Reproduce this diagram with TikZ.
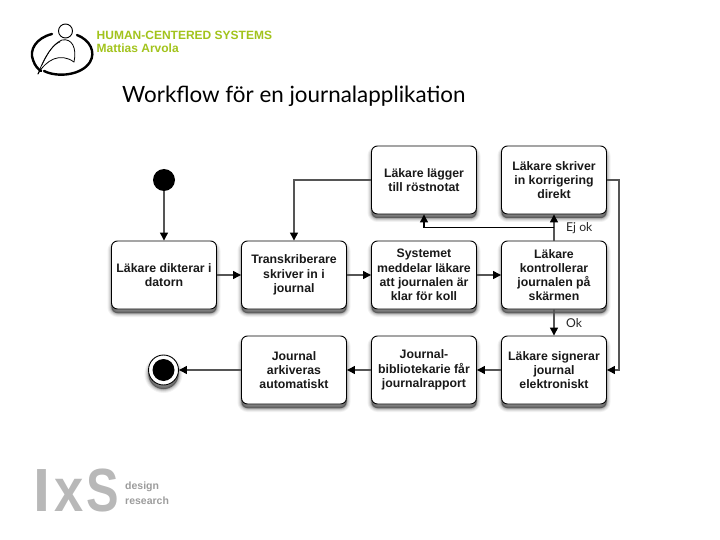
\documentclass[tikz,border=0pt]{standalone}
\usepackage{fontspec}
\setmainfont{Liberation Sans}
\newfontfamily\titlefont{Lato}
\usetikzlibrary{arrows.meta,shadows,calc}
\definecolor{hcsgreen}{HTML}{A2C31C}
\definecolor{lnk}{HTML}{555555}
\definecolor{ixsgray}{HTML}{B8B8B8}
\tikzset{
  softshadow/.style={
    general shadow={shadow xshift=0pt,shadow yshift=-4pt,fill=black,draw=black,line width=8pt,opacity=.05},
    general shadow={shadow xshift=0pt,shadow yshift=-4pt,fill=black,draw=black,line width=6pt,opacity=.07},
    general shadow={shadow xshift=0pt,shadow yshift=-4pt,fill=black,draw=black,line width=4pt,opacity=.10},
    general shadow={shadow xshift=0pt,shadow yshift=-4pt,fill=black,draw=black,line width=2pt,opacity=.14},
    general shadow={shadow xshift=0pt,shadow yshift=-4pt,fill=black,draw=black,line width=.5pt,opacity=.18}},
  box/.style={softshadow,draw=black,line width=.9pt,fill=white,rounded corners=6pt,
    minimum width=105pt,minimum height=68pt,inner sep=0pt,align=center,
    font=\fontsize{12.3}{14.2}\selectfont\bfseries,text=black!90},
  tipped/.style={-{Triangle[length=8pt,width=8pt,black]}},
  link/.style={draw=lnk,line width=1.3pt,tipped},
  lab/.style={font=\titlefont\fontsize{12.2}{14}\selectfont,text=black!85,inner sep=0pt},
  startdot/.style={circle,fill=black,minimum size=22pt,inner sep=0pt},
  enddot/.style={softshadow,circle,draw=black,line width=.9pt,fill=white,minimum size=30pt,inner sep=0pt},
  enddotin/.style={circle,fill=black,minimum size=22pt,inner sep=0pt},
  logoln/.style={line cap=round,black},
  ixsbig/.style={anchor=base west,inner sep=0pt,text=ixsgray,font=\fontsize{61}{61}\selectfont\bfseries},
  ixssmall/.style={anchor=west,inner sep=0pt,text=ixsgray!85!black,font=\fontsize{10.5}{12}\selectfont\bfseries},
  head/.style={anchor=west,inner sep=0pt,text=hcsgreen,font=\fontsize{12}{14}\selectfont\bfseries},
}
\begin{document}
\begin{tikzpicture}[x=1pt,y=-1pt]
\useasboundingbox (0,0) rectangle (720,540);
% logo
\draw[logoln,line width=.9pt] (65.5,31) circle (7);
\draw[logoln,line width=2.4pt] (52,34) .. controls (36,38) and (29,50) .. (33,60) .. controls (35,66) and (38,69) .. (41,71);
\draw[logoln,line width=2.4pt] (77,35) .. controls (90,40) and (96,52) .. (90,62) .. controls (82,75) and (58,78) .. (44,71);
\draw[logoln,line width=.8pt] (38,74) .. controls (44,58) and (52,44) .. (62,40) .. controls (72,38) and (77,48) .. (74,62);
\draw[logoln,line width=.8pt] (38,74) .. controls (46,60) and (60,52) .. (74,62);
\draw[logoln,line width=.6pt] (42,65) .. controls (48,52) and (54,44) .. (60,42);
% header
\node[head] (hcs) at (96.5,35) {HUMAN-CENTERED SYSTEMS};
\node[head] (ma) at (96.5,48.5) {Mattias Arvola};
\node[anchor=west,inner sep=0pt,text=black,font=\titlefont\fontsize{22.4}{26}\selectfont] (title) at (122,96) {Workflow för en journalapplikation};
% IxS
\node[ixsbig] (ixsi) at (33.5,511.5) {I};
\node[ixsbig,xscale=.86] (ixsx) at (54,511.5) {x};
\node[ixsbig,xscale=.8] (ixss) at (86,511.5) {S};
\node[ixssmall] (des) at (125,487) {design};
\node[ixssmall] (res) at (125,501) {research};
% nodes
\node[startdot] (start) at (164,180) {};
\node[enddot] (end) at (163.5,370) {};
\node[enddotin] (endin) at (163.5,370) {};
\node[box] (rost) at (424,180) {Läkare lägger\\till röstnotat};
\node[box] (korr) at (554,180) {Läkare skriver\\in korrigering\\direkt};
\node[box] (dikt) at (164,275) {Läkare dikterar i\\datorn};
\node[box] (trans) at (294,275) {Transkriberare\\skriver in i\\journal};
\node[box] (meddel) at (424,275) {Systemet\\meddelar läkare\\att journalen är\\klar för koll};
\node[box] (kontr) at (554,275) {Läkare\\kontrollerar\\journalen på\\skärmen};
\node[box] (arkiv) at (294,370) {Journal\\arkiveras\\automatiskt};
\node[box] (bibl) at (424,370) {Journal-\\bibliotekarie får\\journalrapport};
\node[box] (sign) at (554,370) {Läkare signerar\\journal\\elektroniskt};
% connectors
\draw[link] (start) -- (dikt);
\draw[link] (dikt) -- (trans);
\draw[link] (trans) -- (meddel);
\draw[link] (meddel) -- (kontr);
\draw[link] (kontr) -- (korr);
\coordinate (branch) at (554,227.5);
\draw[draw=black,line width=1.2pt,tipped] (branch) -| (rost.south);
\draw[link] (kontr) -- (sign);
\draw[link] (sign) -- (bibl);
\draw[link] (bibl) -- (arkiv);
\draw[link] (arkiv) -- (end);
\draw[link] (rost.west) -| (trans.north);
\coordinate (rightlane) at (619,275);
\draw[link] (korr.east) -| (rightlane) |- (sign.east);
\node[lab,anchor=west] (ejok) at (566,228) {Ej ok};
\node[lab,anchor=west] (ok) at (566,323) {Ok};
\end{tikzpicture}
\end{document}
